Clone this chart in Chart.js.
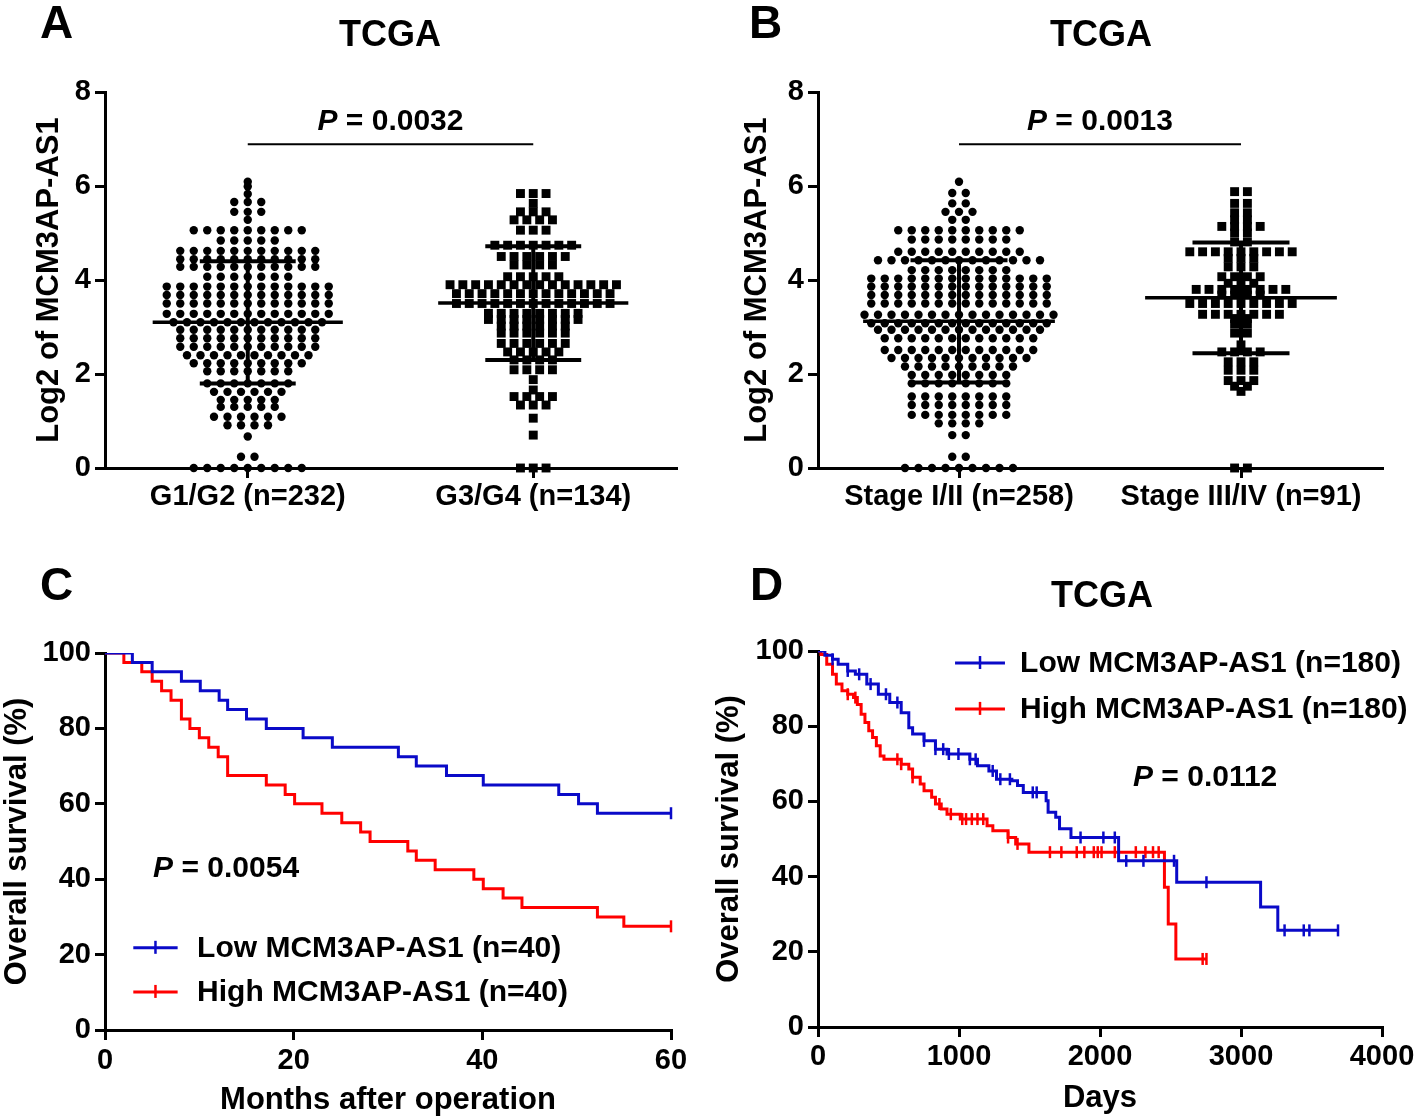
<!DOCTYPE html>
<html><head><meta charset="utf-8">
<script src="https://cdn.jsdelivr.net/npm/chart.js@4.4.1/dist/chart.umd.min.js"></script>
<style>
html,body{margin:0;padding:0;background:#fff;}
#wrap{position:relative;width:1418px;height:1120px;overflow:hidden;background:#fff;}
.pan{position:absolute;width:709px;height:560px;}
.pan canvas{display:block;}
.lbl{position:absolute;font-family:'Liberation Sans',Arial,sans-serif;font-weight:bold;line-height:1;color:#000;white-space:nowrap;}
</style></head><body>
<div id="wrap">
  <div class="pan" style="left:0;top:0"><canvas id="cA" width="709" height="560"></canvas></div>
  <div class="pan" style="left:709px;top:0"><canvas id="cB" width="709" height="560"></canvas></div>
  <div class="pan" style="left:0;top:560px"><canvas id="cC" width="709" height="560"></canvas></div>
  <div class="pan" style="left:709px;top:560px"><canvas id="cD" width="709" height="560"></canvas></div>
  <div class="lbl" style="left:40px;top:-1px;font-size:46px">A</div>
  <div class="lbl" style="left:749px;top:-1px;font-size:46px">B</div>
  <div class="lbl" style="left:40px;top:561px;font-size:46px">C</div>
  <div class="lbl" style="left:750px;top:561px;font-size:46px">D</div>
  <div class="lbl" style="left:290px;width:200px;text-align:center;top:16px;font-size:36px">TCGA</div>
  <div class="lbl" style="left:1001px;width:200px;text-align:center;top:16px;font-size:36px">TCGA</div>
  <div class="lbl" style="left:1002px;width:200px;text-align:center;top:577px;font-size:36px">TCGA</div>
</div>
<script>
// ================= DATA =================
// Panel A
const catsA = ['G1/G2 (n=232)', 'G3/G4 (n=134)'];
const g12Levels = [6.09,5.99,5.83,5.66,5.45,5.28,5.06,4.84,4.62,4.44,4.28,4.07,3.86,3.68,3.50,3.28,3.10,2.94,2.76,2.58,2.40,2.23,2.06,1.80,1.62,1.45,1.30,1.09,0.91,0.67,0.24,0.00];
const g12Counts = [1,1,1,3,3,1,9,5,11,11,11,7,13,13,13,13,12,11,11,11,10,9,7,7,6,5,5,6,4,1,2,9];
const g34Levels = [5.84,5.63,5.45,5.28,5.06,4.74,4.50,4.32,4.07,3.90,3.71,3.50,3.29,3.16,3.02,2.87,2.65,2.47,2.30,2.09,1.88,1.66,1.52,1.34,1.06,0.70,0.00];
const g34Counts = [3,1,3,4,3,7,6,4,5,14,13,13,8,8,6,6,6,5,4,4,1,1,4,3,1,1,3];
const meanA = [3.10, 3.51];
const sdA = [1.30, 1.21];
const pA = '0.0032';
// Panel B
const catsB = ['Stage I/II (n=258)', 'Stage III/IV (n=91)'];
const s12Levels = [6.09,5.85,5.63,5.45,5.28,5.06,4.86,4.60,4.42,4.21,4.03,3.86,3.68,3.50,3.26,3.08,2.94,2.76,2.51,2.34,2.16,1.98,1.80,1.52,1.34,1.13,0.95,0.70,0.24,0.00];
const s12Counts = [1,2,2,3,2,10,8,10,13,8,14,14,14,14,15,14,13,12,12,11,9,8,8,8,8,8,4,2,2,9];
const s34Levels = [5.88,5.63,5.43,5.28,5.14,5.00,4.81,4.60,4.46,4.28,4.07,3.93,3.80,3.68,3.50,3.27,3.18,3.06,2.87,2.62,2.47,2.26,2.08,1.86,1.74,1.63,0.00];
const s34Counts = [2,2,2,2,4,2,2,9,3,3,4,3,8,4,9,7,2,2,2,1,4,3,3,3,2,1,2];
const meanB = [3.12, 3.62];
const sdB = [1.30, 1.18];
const pB = '0.0013';
const scatterYTicks = [0, 2, 4, 6, 8];
// Panel C (months, % survival)
const lowC_t  = [0,2.9,5.0,8.1,10.1,12.1,13.0,15.0,17.1,21.0,24.1,31.1,33.0,36.2,40.1,48.1,50.2,52.2,60];
const lowC_s  = [100,97.5,95,92.5,90,87.5,85,82.5,80,77.5,75,72.5,70,67.5,65,62.5,60,57.5,57.5];
const highC_t = [0,2.0,3.9,5.0,6.0,7.0,8.1,9.0,10.0,11.0,12.0,13.0,17.1,19.1,20.1,23.0,25.1,27.1,28.1,32.1,33.0,35.0,39.1,40.1,42.2,44.2,52.2,55.0,60];
const highC_s = [100,97.5,95,92.5,90,87.5,82.5,80,77.5,75,72.5,67.5,65,62.5,60,57.5,55,52.5,50,47.5,45,42.5,40,37.5,35,32.5,30,27.5,27.5];
const lowC_cens = [60];
const highC_cens = [60];
const legendC = ['Low MCM3AP-AS1 (n=40)', 'High MCM3AP-AS1 (n=40)'];
const pC = '0.0054';
// Panel D (days, % survival)
const lowD_t  = [0,49,103,143,211,265,346,428,509,590,644,671,752,833,915,1077,1131,1212,1266,1375,1415,1456,1618,1632,1686,1713,1794,2132,2544,3139,3261,3688];
const lowD_s  = [100,98.9,97.8,96.5,94.7,93.8,91.2,88.5,86.3,83.6,79.6,77.9,76.1,73.9,72.6,71.2,69.5,68.1,65.9,65.5,64.2,62.4,60.2,57.1,55.8,52.7,50.4,44.2,38.5,31.9,25.7,25.7];
const highD_t = [0,21,62,103,130,170,211,252,279,306,333,360,387,414,441,468,590,644,671,725,752,806,833,874,915,1009,1199,1240,1348,1402,1496,2457,2484,2538,2755];
const highD_s = [100,99.1,96.5,93.8,91.2,89.4,88.5,87.6,85.8,83.2,81.0,78.8,77.0,74.8,72.1,71.2,69.9,68.6,66.4,64.6,62.8,61.1,59.3,58.0,56.6,55.3,53.5,52.2,50.4,48.7,46.5,37.2,27.4,18.1,18.1];
const lowD_cens  = [103,211,292,373,482,563,752,833,888,928,996,1077,1118,1239,1293,1361,1523,1551,1862,2024,2105,2186,2308,2525,2755,3309,3445,3485,3688];
const highD_cens = [211,265,563,590,671,861,942,1023,1050,1091,1131,1172,1348,1415,1645,1726,1835,1889,1956,1984,2011,2105,2254,2322,2376,2416,2728,2755];
const legendD = ['Low MCM3AP-AS1 (n=180)', 'High MCM3AP-AS1 (n=180)'];
const pD = '0.0112';
const kmYTicks = [0, 20, 40, 60, 80, 100];

// ================= STYLE / HELPERS =================
const FAM = "'Liberation Sans', Arial, Helvetica, sans-serif";
Chart.defaults.font.family = FAM;
Chart.defaults.color = '#000';
const BLUE = '#0a0ac8', RED = '#ff0000';
const TICKF = {size: 29, weight: 'bold'};
const BORDER = {display: true, color: '#000', width: 3};
const GRID = {display: true, drawOnChartArea: false, drawTicks: true, tickLength: 10, color: '#000', lineWidth: 3};

function yAxis(min, max, ticksArr, width, title, pad, lh) {
  return {
    type: 'linear', position: 'left', min: min, max: max,
    afterBuildTicks: s => { s.ticks = ticksArr.map(v => ({value: v})); },
    afterFit: s => { s.width = width; },
    border: BORDER, grid: GRID,
    ticks: {font: TICKF, color: '#000', padding: 4, callback: v => String(v)},
    title: {display: true, text: title, color: '#000', font: {size: 31, weight: 'bold', lineHeight: lh}, padding: {top: pad, bottom: 0}}
  };
}
function xCats(cats, height, pad) {
  return {
    type: 'linear', position: 'bottom', min: -0.5, max: 1.5,
    afterBuildTicks: s => { s.ticks = cats.map((c, i) => ({value: i})); },
    afterFit: s => { s.height = height; },
    border: BORDER, grid: GRID,
    ticks: {font: TICKF, color: '#000', padding: pad, maxRotation: 0, autoSkip: false, callback: v => cats[v]}
  };
}
function xNum(min, max, step, height, pad, title, tpad) {
  return {
    type: 'linear', position: 'bottom', min: min, max: max,
    afterFit: s => { s.height = height; },
    border: BORDER, grid: GRID,
    ticks: {font: TICKF, color: '#000', padding: pad, stepSize: step, maxRotation: 0, callback: v => String(v)},
    title: {display: true, text: title, color: '#000', font: {size: 31, weight: 'bold'}, padding: {top: 0, bottom: tpad}}
  };
}
// beeswarm layout: rows of equal values spread horizontally
function swarm(levels, counts, center, gapUnits) {
  const pts = [];
  levels.forEach((lv, r) => {
    const n = counts[r];
    for (let i = 0; i < n; i++) pts.push({x: center + (i - (n - 1) / 2) * gapUnits, y: lv});
  });
  return pts;
}
function meanSd(center, mean, sd, halfMean, halfCap) {
  return [
    {type: 'line', data: [{x: center - halfMean, y: mean}, {x: center + halfMean, y: mean}], borderColor: '#000', borderWidth: 3.5, pointRadius: 0, order: 0, clip: false},
    {type: 'line', spanGaps: false, data: [
      {x: center - halfCap, y: mean + sd}, {x: center + halfCap, y: mean + sd}, {x: center, y: null},
      {x: center, y: mean + sd}, {x: center, y: mean - sd}, {x: center, y: null},
      {x: center - halfCap, y: mean - sd}, {x: center + halfCap, y: mean - sd}],
      borderColor: '#000', borderWidth: 4, pointRadius: 0, order: 0, clip: false}
  ];
}
function steps(T, S) { return T.map((t, i) => ({x: t, y: S[i]})); }
function survAt(T, S, t) { let v = S[0]; for (let i = 0; i < T.length; i++) if (T[i] <= t) v = S[i]; return v; }
function kmSets(T, S, cens, color) {
  return [
    {type: 'line', data: steps(T, S), stepped: true, borderColor: color, borderWidth: 3, pointRadius: 0, fill: false, order: 1},
    {type: 'scatter', data: cens.map(t => ({x: t, y: survAt(T, S, t)})), pointStyle: 'line', pointRotation: 90,
     pointRadius: 6, pointBorderWidth: 2.5, pointBorderColor: color, pointBackgroundColor: color, borderColor: color, clip: false, order: 0}
  ];
}

const annotPlugin = {
  id: 'annot',
  afterDatasetsDraw(chart, args, o) {
    const ctx = chart.ctx, xs = chart.scales.x, ys = chart.scales.y;
    ctx.save();
    ctx.fillStyle = '#000';
    ctx.textBaseline = 'middle';
    ctx.textAlign = 'left';
    if (o.pText) {
      const t = o.pText;
      const px = xs.getPixelForValue(t.x), py = ys.getPixelForValue(t.y);
      const fI = 'italic bold ' + t.size + 'px ' + FAM, fB = 'bold ' + t.size + 'px ' + FAM;
      ctx.font = fI; const w1 = ctx.measureText('P').width;
      const rest = ' = ' + t.value;
      ctx.font = fB; const w2 = ctx.measureText(rest).width;
      const x0 = t.align === 'center' ? px - (w1 + w2) / 2 : px;
      ctx.font = fI; ctx.fillText('P', x0, py);
      ctx.font = fB; ctx.fillText(rest, x0 + w1, py);
    }
    if (o.legend) {
      const L = o.legend;
      const x0 = xs.getPixelForValue(L.x0), x1 = xs.getPixelForValue(L.x1), xt = xs.getPixelForValue(L.xText);
      L.items.forEach(it => {
        const y = ys.getPixelForValue(it.y);
        ctx.strokeStyle = it.color; ctx.lineWidth = 3;
        ctx.beginPath(); ctx.moveTo(x0, y); ctx.lineTo(x1, y); ctx.stroke();
        ctx.lineWidth = 2.5;
        ctx.beginPath(); ctx.moveTo((x0 + x1) / 2, y - 7); ctx.lineTo((x0 + x1) / 2, y + 6); ctx.stroke();
        ctx.font = 'bold ' + L.size + 'px ' + FAM;
        ctx.fillStyle = '#000';
        ctx.fillText(it.label, xt, y + 1);
      });
    }
    ctx.restore();
  }
};

const baseOpts = {responsive: false, animation: false, events: [], devicePixelRatio: 1};

// ================= PANEL A =================
const dotGapA = 13.5 / (571 / 2), sqGapA = 12.8 / (571 / 2);
new Chart(document.getElementById('cA'), {
  type: 'scatter',
  data: {datasets: [
    {type: 'line', data: [{x: 0, y: 6.89}, {x: 1, y: 6.89}], borderColor: '#000', borderWidth: 2, pointRadius: 0, order: 0},
    ...meanSd(0, meanA[0], sdA[0], 0.333, 0.168),
    ...meanSd(1, meanA[1], sdA[1], 0.333, 0.168),
    {type: 'scatter', data: swarm(g12Levels, g12Counts, 0, dotGapA), pointStyle: 'circle', pointRadius: 4.2, backgroundColor: '#000', borderWidth: 0, clip: false, order: 1},
    {type: 'scatter', data: swarm(g34Levels, g34Counts, 1, sqGapA), pointStyle: 'rect', pointRadius: 6.3, backgroundColor: '#000', borderWidth: 0, clip: false, order: 1}
  ]},
  options: Object.assign({}, baseOpts, {
    layout: {padding: {left: 0, top: 92, right: 33, bottom: 0}},
    scales: {x: xCats(catsA, 92, 2), y: yAxis(0, 8, scatterYTicks, 105, 'Log2 of MCM3AP-AS1', 31, 1.2)},
    plugins: {legend: {display: false}, tooltip: {enabled: false},
      annot: {pText: {x: 0.5, y: 7.36, value: pA, size: 30, align: 'center'}}}
  }),
  plugins: [annotPlugin]
});

// ================= PANEL B =================
const dotGapB = 13.5 / (564 / 2), sqGapB = 12.8 / (564 / 2);
new Chart(document.getElementById('cB'), {
  type: 'scatter',
  data: {datasets: [
    {type: 'line', data: [{x: 0, y: 6.89}, {x: 1, y: 6.89}], borderColor: '#000', borderWidth: 2, pointRadius: 0, order: 0},
    ...meanSd(0, meanB[0], sdB[0], 0.34, 0.172),
    ...meanSd(1, meanB[1], sdB[1], 0.34, 0.172),
    {type: 'scatter', data: swarm(s12Levels, s12Counts, 0, dotGapB), pointStyle: 'circle', pointRadius: 4.2, backgroundColor: '#000', borderWidth: 0, clip: false, order: 1},
    {type: 'scatter', data: swarm(s34Levels, s34Counts, 1, sqGapB), pointStyle: 'rect', pointRadius: 6.3, backgroundColor: '#000', borderWidth: 0, clip: false, order: 1}
  ]},
  options: Object.assign({}, baseOpts, {
    layout: {padding: {left: 0, top: 92, right: 36, bottom: 0}},
    scales: {x: xCats(catsB, 92, 2), y: yAxis(0, 8, scatterYTicks, 109, 'Log2 of MCM3AP-AS1', 30, 1.2)},
    plugins: {legend: {display: false}, tooltip: {enabled: false},
      annot: {pText: {x: 0.5, y: 7.36, value: pB, size: 30, align: 'center'}}}
  }),
  plugins: [annotPlugin]
});

// ================= PANEL C =================
new Chart(document.getElementById('cC'), {
  type: 'scatter',
  data: {datasets: [
    ...kmSets(lowC_t, lowC_s, lowC_cens, BLUE),
    ...kmSets(highC_t, highC_s, highC_cens, RED)
  ]},
  options: Object.assign({}, baseOpts, {
    layout: {padding: {left: 0, top: 93, right: 38, bottom: 0}},
    scales: {x: xNum(0, 60, 20, 90, 4, 'Months after operation', 1),
             y: yAxis(0, 100, kmYTicks, 105, 'Overall survival (%)', 0, 1.1)},
    plugins: {legend: {display: false}, tooltip: {enabled: false},
      annot: {pText: {x: 5.1, y: 42.7, value: pC, size: 30, align: 'left'},
              legend: {x0: 3.0, x1: 7.7, xText: 9.76, size: 30, items: [
                {label: legendC[0], color: BLUE, y: 21.8}, {label: legendC[1], color: RED, y: 10.1}]}}}
  }),
  plugins: [annotPlugin]
});

// ================= PANEL D =================
new Chart(document.getElementById('cD'), {
  type: 'scatter',
  data: {datasets: [
    ...kmSets(lowD_t, lowD_s, lowD_cens, BLUE),
    ...kmSets(highD_t, highD_s, highD_cens, RED)
  ]},
  options: Object.assign({}, baseOpts, {
    layout: {padding: {left: 0, top: 91, right: 36, bottom: 0}},
    scales: {x: xNum(0, 4000, 1000, 93, 3, 'Days', 3),
             y: yAxis(0, 100, kmYTicks, 109, 'Overall survival (%)', 2, 1.2)},
    plugins: {legend: {display: false}, tooltip: {enabled: false},
      annot: {pText: {x: 2234, y: 66.2, value: pD, size: 30, align: 'left'},
              legend: {x0: 972, x1: 1326, xText: 1433, size: 30, items: [
                {label: legendD[0], color: BLUE, y: 96.8}, {label: legendD[1], color: RED, y: 84.6}]}}}
  }),
  plugins: [annotPlugin]
});
</script>
</body></html>
